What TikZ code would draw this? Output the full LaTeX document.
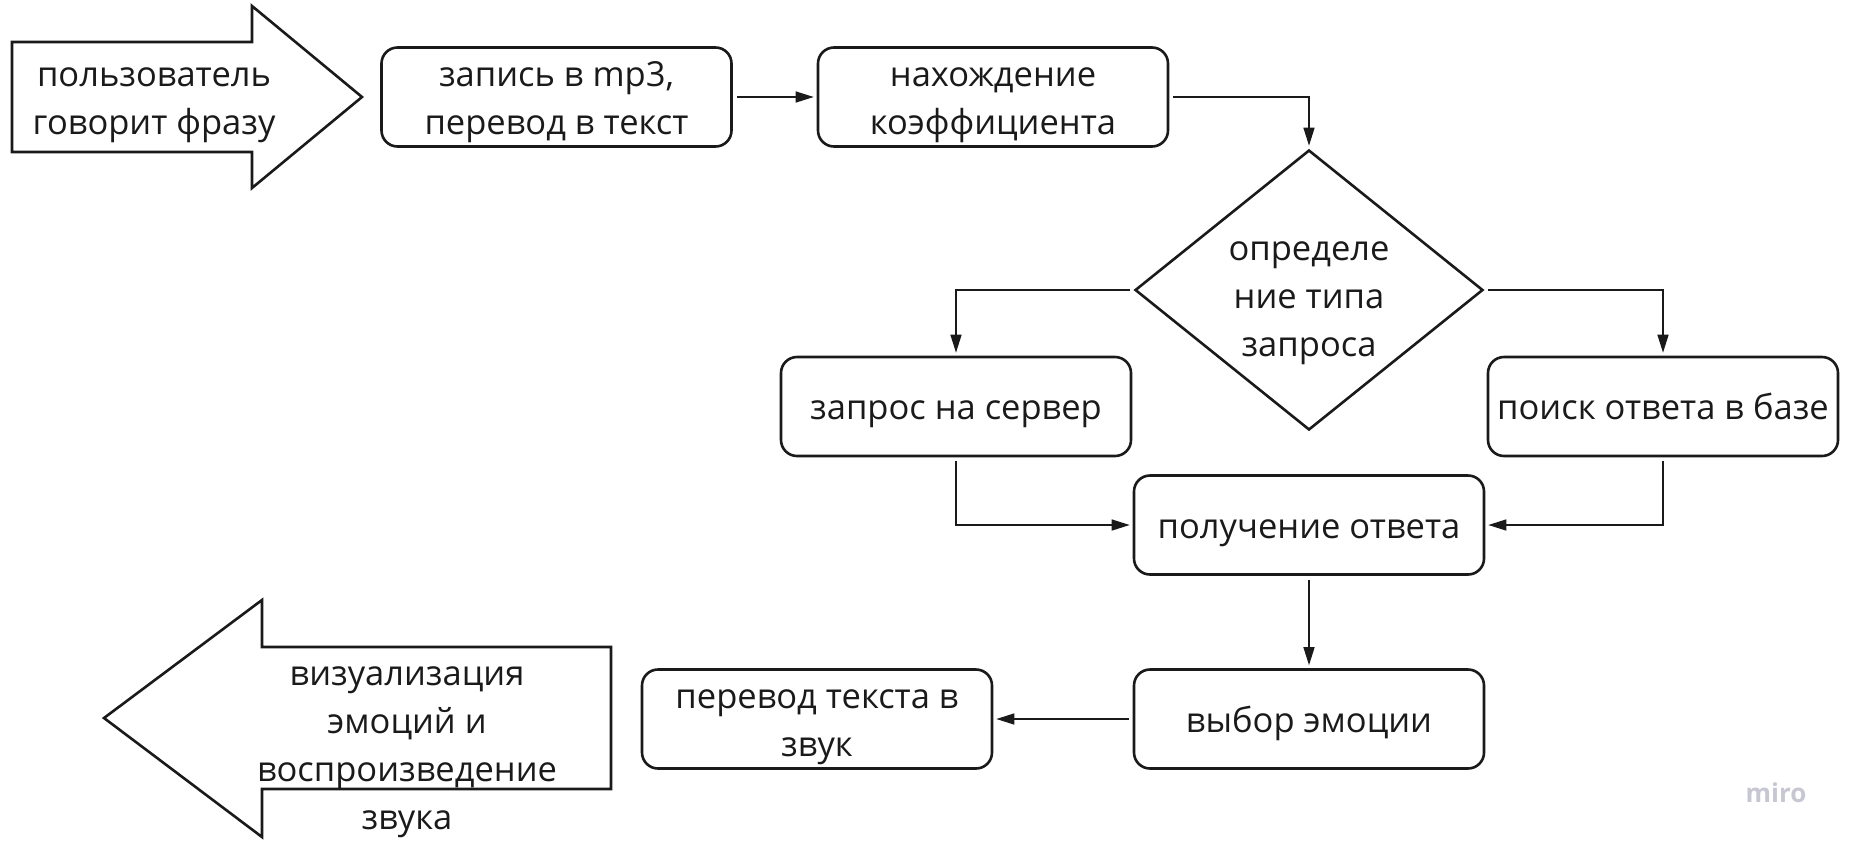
\documentclass[tikz,border=0pt]{standalone}
\usepackage{fontspec}
\setmainfont{Open Sans}
\usetikzlibrary{arrows.meta,shapes.geometric}
\definecolor{ink}{HTML}{1A1A1A}
\definecolor{wmgray}{HTML}{C6C7D2}
% fixed line strut so every text block centres on its lowercase letters
\newcommand\lnstrut{\rule[-9pt]{0pt}{44pt}}

\begin{document}
\begin{tikzpicture}[x=1pt,y=-1pt,
  every node/.style={font=\fontsize{34.5pt}{48pt}\selectfont, text=ink},
  txt/.style={align=center, inner sep=0pt,
    execute at begin node=\lnstrut, execute at end node=\lnstrut},
  procbox/.style={txt, draw=ink, line width=2.6pt, rounded corners=16pt,
    minimum width=350pt, minimum height=99pt},
  flow/.style={draw=ink, line width=1.4pt,
    -{Triangle[length=18pt,width=11pt]}, shorten <=4pt, shorten >=3pt},
  bigarrow/.style={draw=ink, line width=2.6pt, line join=miter},
]
\useasboundingbox (0,0) rectangle (1849,844);

% input and output block arrows
\draw[bigarrow] (12,42) -- (252,42) -- (252,6) -- (362,97) -- (252,188)
  -- (252,152) -- (12,152) -- cycle;
\node[txt] (user) at (154,97) {\lnstrut пользователь\\говорит фразу};

\draw[bigarrow] (611,647) -- (262,647) -- (262,600) -- (104,718) -- (262,837)
  -- (262,789) -- (611,789) -- cycle;
\node[txt] (out) at (407,744)
  {\lnstrut визуализация\\эмоций и\\воспроизведение\\звука};

% process steps
\node[procbox] (rec)  at (556.5,97) {\lnstrut запись в mp3,\\перевод в текст};
\node[procbox] (coef) at (993,97)   {\lnstrut нахождение\\коэффициента};

\node[diamond, draw=ink, line width=2.6pt, minimum width=348pt,
  minimum height=280pt, inner sep=0pt] (type) at (1309,290) {};
\node[txt] (typetxt) at (1309,295) {\lnstrut определе\\ние типа\\запроса};

\node[procbox] (srv)  at (956,406.5)  {запрос на сервер};
\node[procbox] (base) at (1663,406.5) {поиск ответа в базе};
\node[procbox] (resp) at (1309,525)   {получение ответа};
\node[procbox] (emo)  at (1309,719)   {выбор эмоции};
\node[procbox] (tts)  at (817,719)    {\lnstrut перевод текста в\\звук};

% connectors
\draw[flow] (rec.east) -- (coef.west);
\draw[flow] (coef.east) -| (type.north);
\draw[flow] (type.west) -| (srv.north);
\draw[flow] (type.east) -| (base.north);
\draw[flow] (srv.south) |- (resp.west);
\draw[flow] (base.south) |- (resp.east);
\draw[flow] (resp.south) -- (emo.north);
\draw[flow] (emo.west) -- (tts.east);

% watermark
\node[font=\fontsize{26pt}{30pt}\selectfont\bfseries, text=wmgray] (wm)
  at (1776,793) {miro};
\end{tikzpicture}
\end{document}
